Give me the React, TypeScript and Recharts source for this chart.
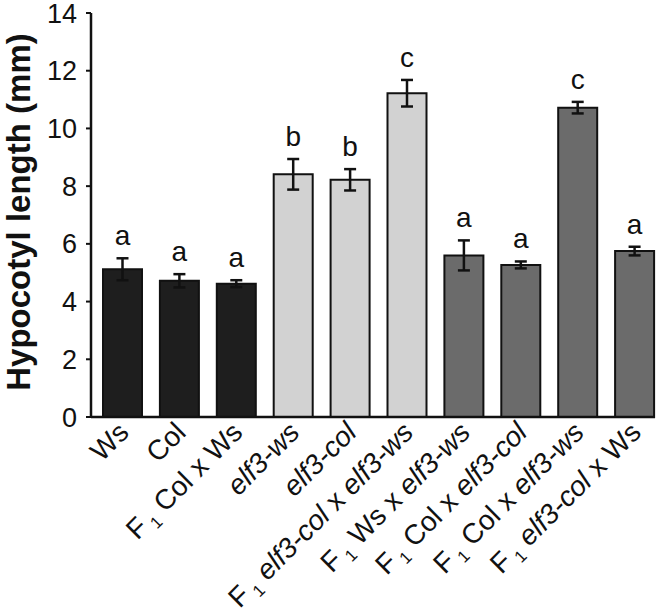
import React from "react";
import { BarChart, Bar, XAxis, YAxis, ErrorBar, Cell, LabelList } from "recharts";

const categories = [
  "Ws",
  "Col",
  "F1 Col x Ws",
  "elf3-ws",
  "elf3-col",
  "F1 elf3-col x elf3-ws",
  "F1 Ws x elf3-ws",
  "F1 Col x elf3-col",
  "F1 Col x elf3-ws",
  "F1 elf3-col x Ws",
];
const means = [5.12, 4.72, 4.62, 8.41, 8.22, 11.22, 5.6, 5.27, 10.72, 5.75];
const errors = [0.38, 0.23, 0.12, 0.53, 0.37, 0.46, 0.52, 0.12, 0.2, 0.15];
const letters = ["a", "a", "a", "b", "b", "c", "a", "a", "c", "a"];
const groups = [0, 0, 0, 1, 1, 1, 2, 2, 2, 2];
const groupColors = ["#1e1e1e", "#d2d2d2", "#6b6b6b"];
const yTicks = [0, 2, 4, 6, 8, 10, 12, 14];

const data = categories.map((c, i) => ({
  name: c,
  value: means[i],
  err: errors[i],
  letter: letters[i],
}));

const FONT = "'Liberation Sans', Arial, sans-serif";
const INK = "#111";

function XTick(props: any) {
  const { x, y, payload } = props;
  const label: string = payload.value;
  const parts: React.ReactNode[] = [];
  let rest = label;
  if (rest.startsWith("F1 ")) {
    parts.push(<tspan key="F">F</tspan>);
    parts.push(
      <tspan key="sub" fontSize={17} dy={6}>
        {"\u00a01"}
      </tspan>
    );
    parts.push(
      <tspan key="sp" dy={-6}>
        {"\u00a0"}
      </tspan>
    );
    rest = rest.slice(3);
  }
  const tokens = rest.split(" ");
  tokens.forEach((t, i) => {
    const txt = (i > 0 ? "\u00a0" : "") + t;
    parts.push(
      <tspan key={"t" + i} fontStyle={t.startsWith("elf3") ? "italic" : "normal"}>
        {txt}
      </tspan>
    );
  });
  const ax = x + 8;
  const ay = y + 17;
  return (
    <text
      x={ax}
      y={ay}
      textAnchor="end"
      fontSize={28}
      fontFamily={FONT}
      fill={INK}
      transform={`rotate(-45, ${ax}, ${ay})`}
    >
      {parts}
    </text>
  );
}

function LetterLabel(props: any) {
  const { x, y, width, height, index } = props;
  const v = means[index];
  const pxPerUnit = height / v;
  const errPx = errors[index] * pxPerUnit;
  return (
    <text
      x={x + width / 2}
      y={y - errPx - 13}
      textAnchor="middle"
      fontSize={28}
      fontFamily={FONT}
      fill={INK}
    >
      {letters[index]}
    </text>
  );
}

function YLabel() {
  return (
    <text
      x={30}
      y={212}
      textAnchor="middle"
      fontSize={33}
      fontWeight="bold"
      fontFamily={FONT}
      fill={INK}
      transform="rotate(-90, 30, 212)"
    >
      Hypocotyl length (mm)
    </text>
  );
}

export default function App() {
  return (
    <div style={{ position: "absolute", left: 0, top: 0, width: 658, height: 616, overflow: "hidden", background: "#fff" }}>
      <BarChart
        width={665}
        height={616}
        data={data}
        margin={{ top: 13, right: 2, bottom: 49, left: 0 }}
        barCategoryGap={0}
      >
        <XAxis
          dataKey="name"
          height={150}
          interval={0}
          tick={<XTick />}
          tickLine={false}
          tickSize={0}
          tickMargin={0}
          padding={{ left: 3, right: 0 }}
          axisLine={{ stroke: INK, strokeWidth: 2.5, strokeDasharray: "564 300" }}
        />
        <YAxis
          width={91}
          domain={[0, 14]}
          ticks={yTicks}
          interval={0}
          tickSize={5}
          tickMargin={9}
          tick={{ fontSize: 27, fontFamily: FONT, fill: INK }}
          tickLine={{ stroke: INK, strokeWidth: 2 }}
          axisLine={{ stroke: INK, strokeWidth: 2.5 }}
          label={<YLabel />}
        />
        <Bar dataKey="value" barSize={39} stroke={INK} strokeWidth={2} isAnimationActive={false}>
          {data.map((d, i) => (
            <Cell key={i} fill={groupColors[groups[i]]} />
          ))}
          <ErrorBar dataKey="err" width={6} stroke={INK} strokeWidth={2.5} direction="y" />
          <LabelList dataKey="letter" content={<LetterLabel />} />
        </Bar>
      </BarChart>
    </div>
  );
}
